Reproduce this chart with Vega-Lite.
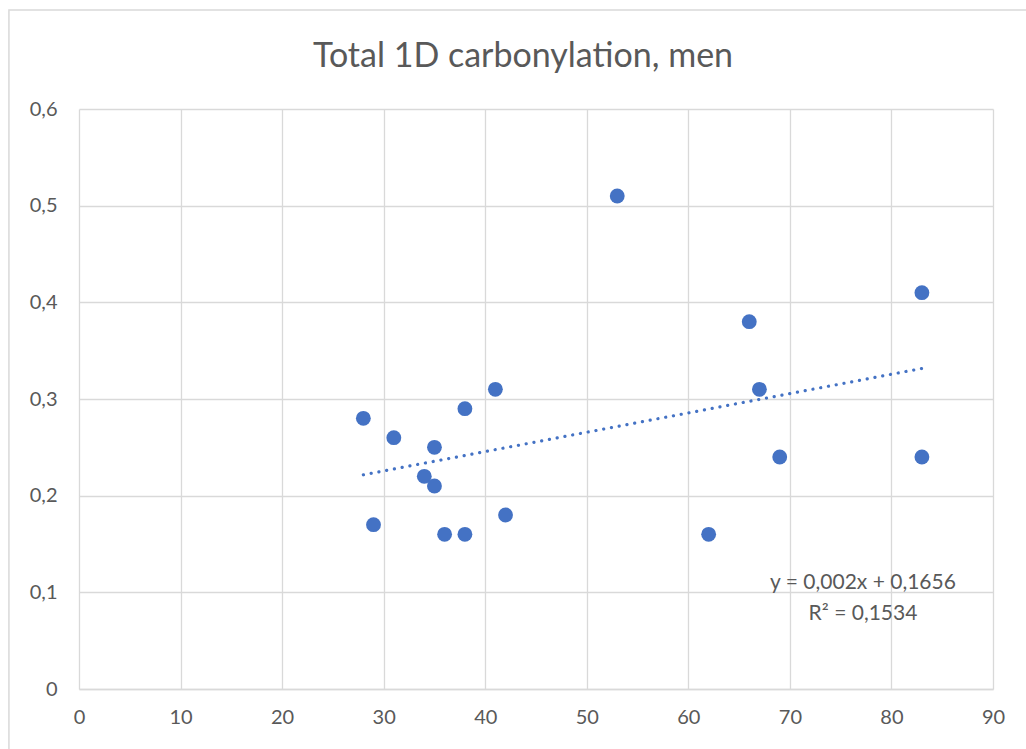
{
  "$schema": "https://vega.github.io/schema/vega-lite/v6.json",
  "width": 914,
  "height": 580,
  "autosize": {"type": "none"},
  "padding": {"left": 79, "top": 109, "right": 33, "bottom": 60},
  "background": "white",
  "title": {
    "text": "Total 1D carbonylation, men",
    "font": "Lato",
    "fontSize": 34,
    "fontWeight": "normal",
    "color": "#595959",
    "anchor": "middle",
    "dx": -13,
    "offset": -65
  },
  "config": {
    "view": {"stroke": null},
    "font": "Lato"
  },
  "datasets": {
    "points": [
      {"age": 28, "value": 0.28},
      {"age": 29, "value": 0.17},
      {"age": 31, "value": 0.26},
      {"age": 34, "value": 0.22},
      {"age": 35, "value": 0.25},
      {"age": 35, "value": 0.21},
      {"age": 36, "value": 0.16},
      {"age": 38, "value": 0.16},
      {"age": 38, "value": 0.29},
      {"age": 41, "value": 0.31},
      {"age": 42, "value": 0.18},
      {"age": 53, "value": 0.51},
      {"age": 62, "value": 0.16},
      {"age": 66, "value": 0.38},
      {"age": 67, "value": 0.31},
      {"age": 69, "value": 0.24},
      {"age": 83, "value": 0.41},
      {"age": 83, "value": 0.24}
    ],
    "trend": [
      {"age": 28, "value": 0.2216},
      {"age": 83, "value": 0.3316}
    ],
    "labels": [
      {"age": 77.2, "value": 0.1097, "label": "y = 0,002x + 0,1656"},
      {"age": 77.2, "value": 0.0776, "label": "R² = 0,1534"}
    ],
    "frame": [
      {"x0": -6.9, "x1": 100, "y0": -0.2, "y1": 0.7024}
    ]
  },
  "layer": [
    {
      "data": {"name": "frame"},
      "mark": {"type": "rect", "fill": null, "stroke": "#d9d9d9", "strokeWidth": 1.5, "clip": false},
      "encoding": {
        "x": {"field": "x0", "type": "quantitative"},
        "x2": {"field": "x1"},
        "y": {"field": "y0", "type": "quantitative"},
        "y2": {"field": "y1"}
      }
    },
    {
      "data": {"name": "points"},
      "mark": {"type": "circle", "size": 220, "color": "#4472c4", "opacity": 1},
      "encoding": {
        "x": {
          "field": "age",
          "type": "quantitative",
          "scale": {"domain": [0, 90], "nice": false, "zero": false},
          "axis": {
            "title": null,
            "values": [0, 10, 20, 30, 40, 50, 60, 70, 80, 90],
            "grid": true,
            "gridColor": "#d9d9d9",
            "gridWidth": 1.3,
            "domain": true,
            "domainColor": "#d9d9d9",
            "domainWidth": 1.3,
            "ticks": false,
            "labelFlush": false,
            "labelPadding": 18,
            "labelFont": "Lato",
            "labelFontSize": 20,
            "labelColor": "#595959"
          }
        },
        "y": {
          "field": "value",
          "type": "quantitative",
          "scale": {"domain": [0, 0.6], "nice": false},
          "axis": {
            "title": null,
            "values": [0, 0.1, 0.2, 0.3, 0.4, 0.5, 0.6],
            "grid": true,
            "gridColor": "#d9d9d9",
            "gridWidth": 1.3,
            "domain": false,
            "ticks": false,
            "labelFlush": false,
            "labelPadding": 22,
            "labelFont": "Lato",
            "labelFontSize": 20,
            "labelColor": "#595959",
            "labelExpr": "datum.value == 0 ? '0' : replace(format(datum.value, '.1f'), '.', ',')"
          }
        }
      }
    },
    {
      "data": {"name": "trend"},
      "mark": {"type": "line", "color": "#4472c4", "strokeWidth": 3.2, "strokeCap": "round", "strokeDash": [0.1, 7.79]},
      "encoding": {
        "x": {"field": "age", "type": "quantitative"},
        "y": {"field": "value", "type": "quantitative"}
      }
    },
    {
      "data": {"name": "labels"},
      "mark": {"type": "text", "font": "Lato", "fontSize": 21, "color": "#595959", "align": "center", "baseline": "middle"},
      "encoding": {
        "x": {"field": "age", "type": "quantitative"},
        "y": {"field": "value", "type": "quantitative"},
        "text": {"field": "label"}
      }
    }
  ]
}
